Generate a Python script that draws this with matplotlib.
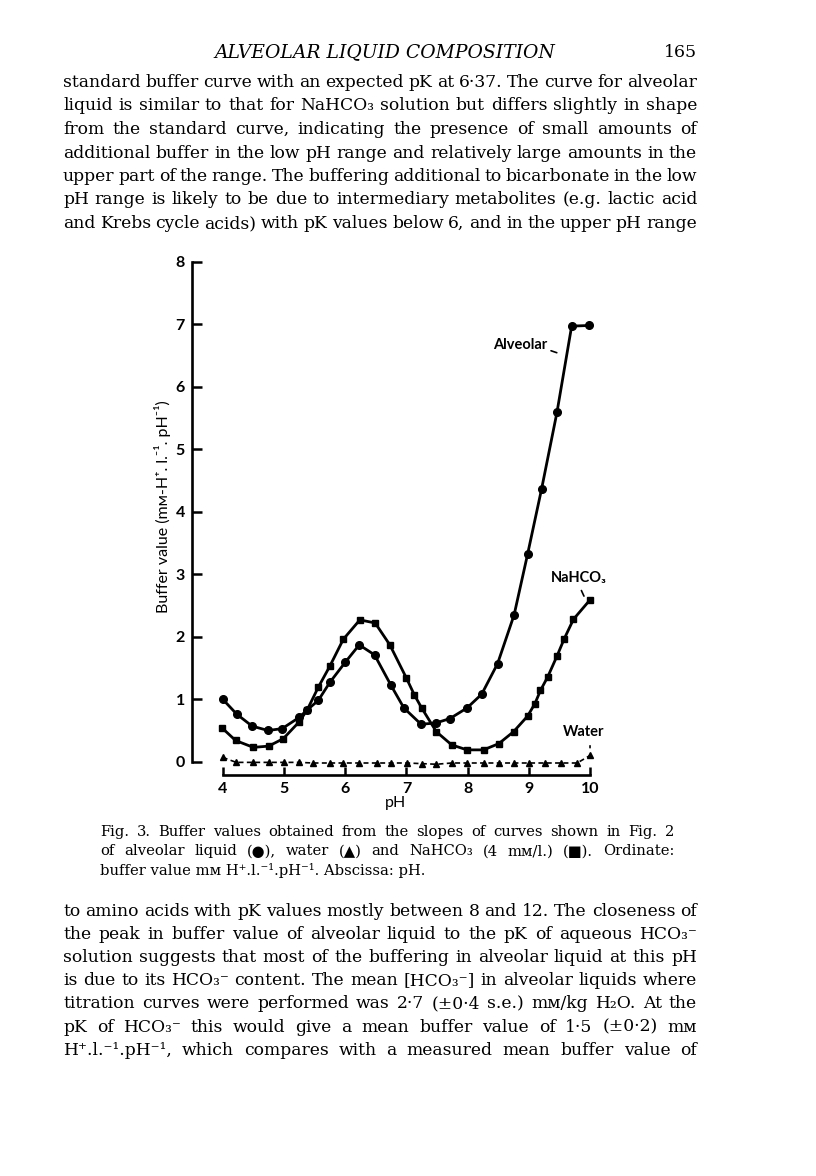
import matplotlib.pyplot as plt

# buffer values (pH, mM H+/l/pH)
alv_ph = [4.0, 4.23, 4.48, 4.74, 4.97, 5.25, 5.38, 5.56, 5.75, 6.0, 6.23, 6.48, 6.75, 6.96,
          7.24, 7.48, 7.71, 7.99, 8.23, 8.49, 8.76, 8.98, 9.21, 9.46, 9.70, 9.99]
alv_buf = [1.0, 0.76, 0.57, 0.50, 0.53, 0.71, 0.83, 0.98, 1.27, 1.59, 1.87, 1.71, 1.22, 0.86,
           0.60, 0.62, 0.69, 0.86, 1.08, 1.57, 2.35, 3.32, 4.37, 5.59, 6.97, 6.98]

nahco3_ph = [3.99, 4.21, 4.50, 4.75, 4.99, 5.25, 5.38, 5.56, 5.75, 5.97, 6.24, 6.49, 6.73, 7.0,
             7.13, 7.25, 7.49, 7.74, 7.99, 8.26, 8.51, 8.75, 8.98, 9.10, 9.19, 9.31, 9.46,
             9.58, 9.73, 10.0]
nahco3_buf = [0.54, 0.34, 0.23, 0.25, 0.37, 0.64, 0.83, 1.19, 1.53, 1.96, 2.27, 2.22, 1.87, 1.34,
              1.07, 0.86, 0.48, 0.27, 0.19, 0.19, 0.29, 0.48, 0.73, 0.93, 1.14, 1.36, 1.69,
              1.97, 2.28, 2.59]

water_ph = [4.0, 4.22, 4.5, 4.75, 5.0, 5.24, 5.48, 5.75, 5.97, 6.23, 6.52, 6.75, 7.01, 7.25,
            7.49, 7.74, 7.99, 8.26, 8.51, 8.75, 9.0, 9.27, 9.52, 9.79, 10.0]
water_buf = [0.07, -0.01, -0.01, -0.01, -0.01, -0.01, -0.02, -0.02, -0.02, -0.02, -0.02, -0.02,
             -0.02, -0.03, -0.04, -0.02, -0.02, -0.02, -0.02, -0.02, -0.02, -0.02, -0.02,
             -0.02, 0.10]

x_ticks = [4, 5, 6, 7, 8, 9, 10]
y_ticks = [0, 1, 2, 3, 4, 5, 6, 7, 8]

top_lines = [
    "standard buffer curve with an expected pK at 6·37. The curve for alveolar",
    "liquid is similar to that for NaHCO₃ solution but differs slightly in shape",
    "from the standard curve, indicating the presence of small amounts of",
    "additional buffer in the low pH range and relatively large amounts in the",
    "upper part of the range. The buffering additional to bicarbonate in the low",
    "pH range is likely to be due to intermediary metabolites (e.g. lactic acid",
    "and Krebs cycle acids) with pK values below 6, and in the upper pH range",
]
caption_lines = [
    "Fig. 3. Buffer values obtained from the slopes of curves shown in Fig. 2",
    "of alveolar liquid (●), water (▲) and NaHCO₃ (4 mᴍ/l.)  (■). Ordinate:",
    "buffer value mᴍ H⁺.l.⁻¹.pH⁻¹. Abscissa: pH.",
]
bottom_lines = [
    "to amino acids with pK values mostly between 8 and 12. The closeness of",
    "the peak in buffer value of alveolar liquid to the pK of aqueous HCO₃⁻",
    "solution suggests that most of the buffering in alveolar liquid at this pH",
    "is due to its HCO₃⁻ content. The mean [HCO₃⁻] in alveolar liquids where",
    "titration curves were performed was 2·7 (±0·4 s.e.) mᴍ/kg H₂O. At the",
    "pK of HCO₃⁻ this would give a mean buffer value of 1·5 (±0·2) mᴍ",
    "H⁺.l.⁻¹.pH⁻¹, which compares with a measured mean buffer value of",
]

plt.rcParams['font.family'] = ['Lato', 'DejaVu Sans']
serif = ['DejaVu Serif', 'Liberation Serif']
W, H = 816, 1176

fig = plt.figure(figsize=(8.16, 11.76), dpi=100)
fig.patch.set_facecolor('white')


def put_line(line, x0, x1, y, size, justify=True, **kw):
    # y is the baseline in page pixels from the top
    if not justify:
        fig.text(x0 / W, 1 - y / H, line, fontsize=size, va='baseline', family=serif, **kw)
        return
    words = line.split()
    items = [fig.text(x0 / W, 1 - y / H, w, fontsize=size, va='baseline', family=serif, **kw)
             for w in words]
    r = fig.canvas.get_renderer()
    widths = [t.get_window_extent(r).width for t in items]
    gap = (x1 - x0 - sum(widths)) / (len(words) - 1)
    x = x0
    for t, w in zip(items, widths):
        t.set_x(x / W)
        x += w + gap


# running head
fig.text(385 / W, 1 - 57 / H, "ALVEOLAR LIQUID COMPOSITION", fontsize=13.5, style='italic',
         ha='center', va='baseline', family=serif)
fig.text(697 / W, 1 - 57 / H, "165", fontsize=12.5, ha='right', va='baseline', family=serif)

for i, line in enumerate(top_lines):
    put_line(line, 63, 697, 87 + 23.5 * i, 12.3)
for i, line in enumerate(caption_lines):
    put_line(line, 100, 674, 836 + 19.3 * i, 10.6, justify=(i < 2))
for i, line in enumerate(bottom_lines):
    put_line(line, 63, 697, 916 + 23.1 * i, 12.3)

# chart
ax = fig.add_axes([191.7 / W, 1 - 780.5 / H, 407.5 / W, 521.9 / H])
ax.plot(alv_ph, alv_buf, color='black', lw=2.0, marker='o', ms=5.5)
ax.plot(nahco3_ph, nahco3_buf, color='black', lw=2.0, marker='s', ms=5)
ax.plot(water_ph, water_buf, color='black', lw=1.2, ls=(0, (3, 2)), marker='^', ms=4.5)

ax.set_xlim(3.493, 10.15)
ax.set_ylim(-0.3, 8.05)
ax.spines['top'].set_visible(False)
ax.spines['right'].set_visible(False)
ax.spines['left'].set_bounds(0, 8)
ax.spines['bottom'].set_bounds(4, 10)
ax.spines['bottom'].set_position(('data', -0.21))
for s in ['left', 'bottom']:
    ax.spines[s].set_linewidth(1.9)

ax.set_xticks(x_ticks)
ax.set_yticks(y_ticks)
ax.tick_params(direction='in', length=7, width=1.8, labelsize=11.5, pad=5)
ax.tick_params(axis='x', length=6, pad=5)
for lbl in ax.get_xticklabels() + ax.get_yticklabels():
    lbl.set_fontweight('bold')

ax.set_xlabel('pH', fontsize=11.5, labelpad=0)
ax.set_ylabel('Buffer value (mᴍ-H⁺. l.⁻¹. pH⁻¹)', fontsize=11.5)
ax.yaxis.set_label_coords(-0.05, 0.524)

ax.text(8.86, 6.67, 'Alveolar', ha='center', va='center', fontsize=10.5, fontweight='bold')
ax.annotate('', xy=(9.50, 6.53), xytext=(9.32, 6.59), arrowprops=dict(arrowstyle='-', lw=1.2))
ax.text(9.81, 2.94, 'NaHCO₃', ha='center', va='center', fontsize=10.5, fontweight='bold')
ax.annotate('', xy=(9.92, 2.61), xytext=(9.84, 2.78), arrowprops=dict(arrowstyle='-', lw=1.2))
ax.text(9.9, 0.48, 'Water', ha='center', va='center', fontsize=10.5, fontweight='bold')
ax.annotate('', xy=(10.0, 0.18), xytext=(10.0, 0.30), arrowprops=dict(arrowstyle='-', lw=1.2))

fig.savefig('out.png', dpi=100)
